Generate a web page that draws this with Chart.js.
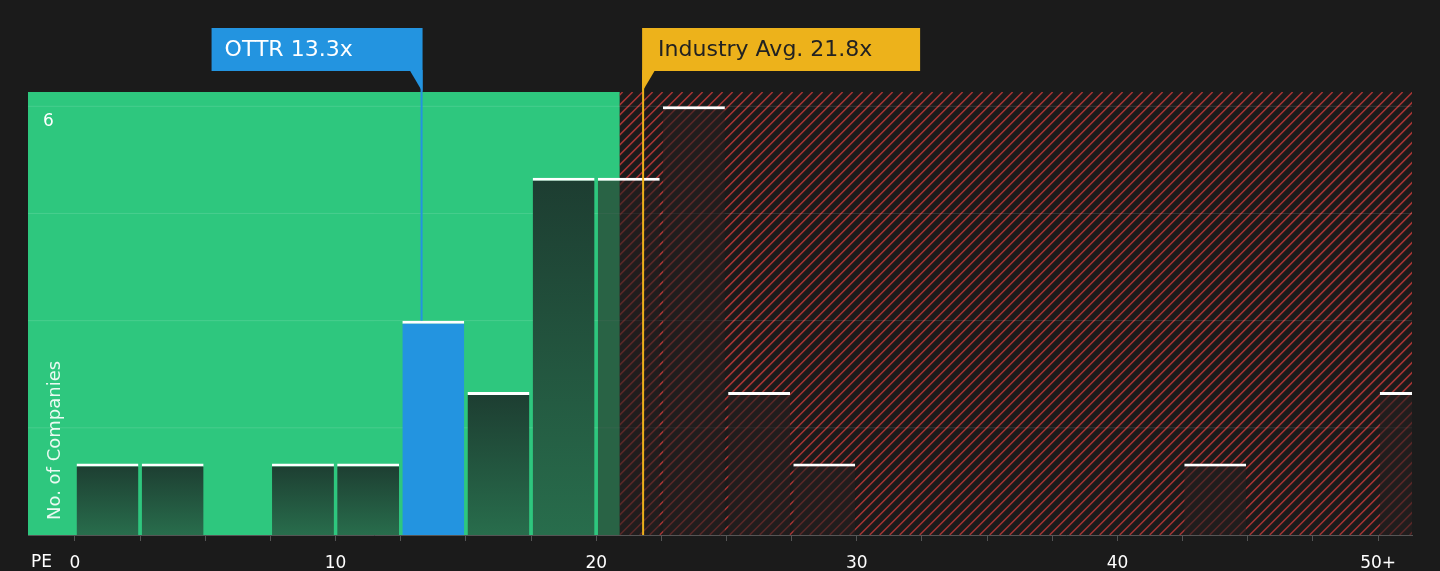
<!DOCTYPE html>
<html><head><meta charset="utf-8">
<script src="https://cdn.jsdelivr.net/npm/chart.js@4"></script>
<style>html,body{margin:0;background:#1b1b1b}#wrap{width:1440px;height:571px}</style>
</head><body><div id="wrap"><canvas id="myChart"></canvas></div>
<script>
// bin centres (PE, 2.5 wide) and company counts
const binCentres = [1.25,3.75,6.25,8.75,11.25,13.75,16.25,18.75,21.25,23.75,26.25,28.75,31.25,33.75,36.25,38.75,41.25,43.75,46.25,48.75,51.25];
const counts     = [1,1,0,1,1,3,2,5,5,6,2,1,0,0,0,0,0,1,0,0,2];
const companyPE = 13.3;
const industryPE = 21.8;
const fairLimit = 20.9;
const xTicks = [0,2.5,5,7.5,10,12.5,15,17.5,20,22.5,25,27.5,30,32.5,35,37.5,40,42.5,45,47.5,50];
const gridValues = [1.5,3,4.5,6];

const bgPlugin = {
  id: "bg",
  beforeDatasetsDraw(chart) {
    const {ctx, chartArea: a, scales: {x, y}} = chart;
    const fx = x.getPixelForValue(fairLimit);
    ctx.save();
    ctx.fillStyle = "#2ec77e";
    ctx.fillRect(a.left, a.top, fx - a.left, a.bottom - a.top);
    ctx.beginPath(); ctx.rect(fx, a.top, a.right - fx, a.bottom - a.top); ctx.clip();
    ctx.strokeStyle = "rgba(205,60,60,0.8)"; ctx.lineWidth = 1.5;
    for (let s = fx - 500; s < a.right + 10; s += 10) {
      ctx.beginPath(); ctx.moveTo(s, a.bottom); ctx.lineTo(s + (a.bottom - a.top), a.top); ctx.stroke();
    }
    ctx.restore();
    ctx.save();
    ctx.strokeStyle = "rgba(255,255,255,0.12)"; ctx.lineWidth = 1;
    gridValues.forEach(v => {
      const py = y.getPixelForValue(v);
      ctx.beginPath(); ctx.moveTo(a.left, py); ctx.lineTo(a.right, py); ctx.stroke();
    });
    ctx.restore();
  },
  afterDraw(chart) {
    const {ctx, chartArea: a, scales: {x, y}} = chart;
    ctx.save();
    ctx.fillStyle = "#ffffff"; ctx.font = "17px 'DejaVu Sans'";
    ctx.textBaseline = "middle";
    ctx.fillText("6", a.left + 15, y.getPixelForValue(6) + 15);
    ctx.fillText("PE", 31, 563);
    ctx.save();
    ctx.translate(55, a.bottom - 15); ctx.rotate(-Math.PI / 2);
    ctx.font = "18px 'DejaVu Sans'"; ctx.fillStyle = "rgba(255,255,255,0.9)";
    ctx.fillText("No. of Companies", 0, 0);
    ctx.restore();
    const cx = x.getPixelForValue(companyPE);
    ctx.strokeStyle = "#2394e0"; ctx.lineWidth = 2;
    ctx.beginPath(); ctx.moveTo(cx, 71); ctx.lineTo(cx, y.getPixelForValue(3)); ctx.stroke();
    const ix = x.getPixelForValue(industryPE);
    ctx.strokeStyle = "#edb21b";
    ctx.beginPath(); ctx.moveTo(ix, 71); ctx.lineTo(ix, a.bottom); ctx.stroke();
    ctx.fillStyle = "#2394e0";
    ctx.fillRect(cx - 210, 28, 211, 43);
    ctx.beginPath(); ctx.moveTo(cx - 12, 70); ctx.lineTo(cx + 1, 70); ctx.lineTo(cx + 1, 92); ctx.fill();
    ctx.fillStyle = "#edb21b";
    ctx.fillRect(ix - 1, 28, 278, 43);
    ctx.beginPath(); ctx.moveTo(ix - 1, 70); ctx.lineTo(ix + 12, 70); ctx.lineTo(ix - 1, 92); ctx.fill();
    ctx.font = "22px 'DejaVu Sans'";
    ctx.fillStyle = "#ffffff"; ctx.fillText("OTTR 13.3x", cx - 197, 50);
    ctx.fillStyle = "#222222"; ctx.fillText("Industry Avg. 21.8x", ix + 15, 50);
    ctx.restore();
  }
};

const ctx = document.getElementById("myChart").getContext("2d");
new Chart(ctx, {
  type: "bar",
  data: {
    datasets: [{
      data: binCentres.map((c, i) => ({x: c, y: counts[i]})),
      backgroundColor: (c) => {
        const {chart, raw} = c;
        if (!raw) return "transparent";
        if (raw.x === 13.75) return "#2394e0";
        if (raw.x > fairLimit) return "rgba(38,32,32,0.6)";
        const a = chart.chartArea;
        if (!a) return "#235a40";
        const top = chart.scales.y.getPixelForValue(raw.y);
        const g = chart.ctx.createLinearGradient(0, top, 0, a.bottom);
        g.addColorStop(0, "#1d3d31"); g.addColorStop(1, "#286d4c");
        return g;
      },
      borderColor: "#ffffff",
      borderWidth: {top: 3, left: 0, right: 0, bottom: 0},
      borderSkipped: false,
      categoryPercentage: 1,
      barPercentage: 0.95
    }]
  },
  plugins: [bgPlugin],
  options: {
    animation: false,
    responsive: true,
    maintainAspectRatio: false,
    layout: {padding: {left: 28, right: 28, top: 92, bottom: 0}},
    plugins: {legend: {display: false}, tooltip: {enabled: false}},
    scales: {
      x: {
        type: "linear", min: -1.8, max: 51.3, offset: false,
        afterBuildTicks: (s) => { s.ticks = xTicks.map(v => ({value: v})); },
        afterFit: (s) => { s.height = 36; },
        ticks: {
          color: "#ffffff", font: {size: 17, family: "DejaVu Sans"}, padding: 12,
          maxRotation: 0, autoSkip: false,
          callback: (v) => v === 50 ? "50+" : (v % 10 === 0 ? String(v) : "")
        },
        grid: {drawOnChartArea: false, color: "#555555", tickLength: 6, offset: false},
        border: {color: "#555555"}
      },
      y: {
        min: 0, max: 6.2,
        ticks: {display: false},
        grid: {display: false},
        border: {display: false},
        afterFit: (s) => { s.width = 0; }
      }
    }
  }
});
</script></body></html>
